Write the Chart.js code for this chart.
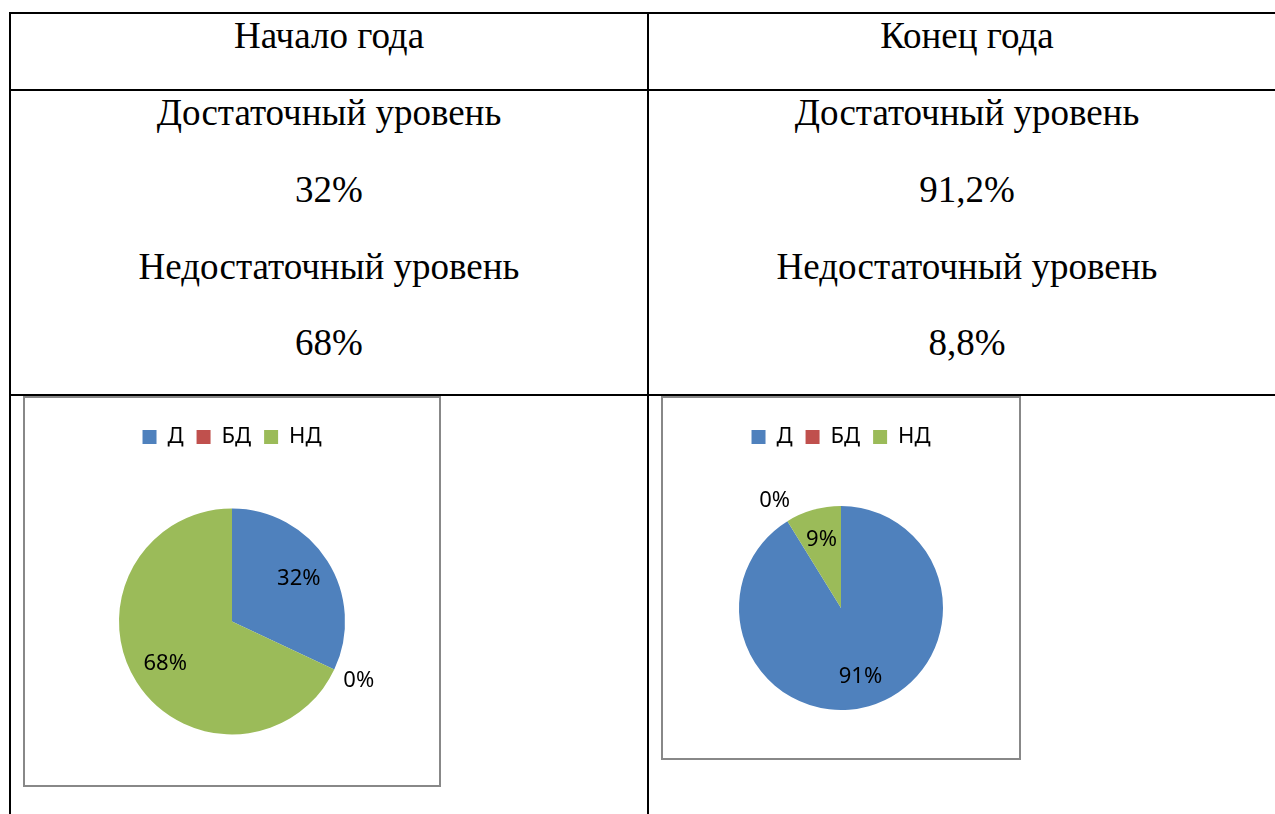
<!DOCTYPE html>
<html lang="ru">
<head>
<meta charset="utf-8">
<title>Начало года / Конец года</title>
<script src="https://cdn.jsdelivr.net/npm/chart.js@4.4.1/dist/chart.umd.min.js"></script>
<style>
  html, body { margin: 0; padding: 0; background: #fff; overflow: hidden; }
  body { width: 1275px; height: 814px; position: relative; font-family: "Liberation Serif", "Times New Roman", serif; }
  .line { position: absolute; background: #000; }
  .txt { position: absolute; width: 638px; text-align: center; font-size: 37px; color: #000; line-height: 44px; }
  .box { position: absolute; border: 2px solid #888; background: #fff; }
  .box canvas { display: block; }
</style>
</head>
<body>

<!-- table grid -->
<div class="line" style="left:9px; top:12px; width:1266px; height:2px;"></div>
<div class="line" style="left:9px; top:89px; width:1266px; height:2px;"></div>
<div class="line" style="left:9px; top:394px; width:1266px; height:2px;"></div>
<div class="line" style="left:9px; top:12px; width:2px; height:802px;"></div>
<div class="line" style="left:647px; top:12px; width:2px; height:802px;"></div>

<!-- column headers + text row -->
<div class="txt" style="left:10px; top:14px;">Начало года</div>
<div class="txt" style="left:648px; top:14px;">Конец года</div>

<div class="txt" style="left:10px; top:91px;">Достаточный уровень</div>
<div class="txt" style="left:10px; top:168px;">32%</div>
<div class="txt" style="left:10px; top:245px;">Недостаточный уровень</div>
<div class="txt" style="left:10px; top:321px;">68%</div>

<div class="txt" style="left:648px; top:91px;">Достаточный уровень</div>
<div class="txt" style="left:648px; top:168px;">91,2%</div>
<div class="txt" style="left:648px; top:245px;">Недостаточный уровень</div>
<div class="txt" style="left:648px; top:321px;">8,8%</div>

<!-- chart boxes -->
<div class="box" style="left:23px; top:396px; width:414px; height:387px;">
  <canvas id="pie-start" width="414" height="387"></canvas>
</div>
<div class="box" style="left:661px; top:396px; width:356px; height:360px;">
  <canvas id="pie-end" width="356" height="360"></canvas>
</div>

<script>
// ─── DATA ─────────────────────────────────────────────────────────
const categories   = ["Д", "БД", "НД"];
const startValues  = [32, 0, 68];      // начало года, %
const endValues    = [91.2, 0, 8.8];   // конец года, %
const sliceColors  = ["#4F81BD", "#C0504D", "#9BBB59"];

const labelFont = "Noto Sans";

// ─── PERCENT LABELS ───────────────────────────────────────────────
// Inside the slice at ~70% radius; zero slices get their label outside
const percentLabels = {
  id: "percentLabels",
  afterDatasetsDraw(chart) {
    const ctx  = chart.ctx;
    const meta = chart.getDatasetMeta(0);
    const data = chart.data.datasets[0].data;
    const total = data.reduce((a, b) => a + b, 0);

    ctx.save();
    ctx.font = `22px "${labelFont}"`;
    ctx.fillStyle = "#000";
    ctx.textAlign = "center";
    ctx.textBaseline = "middle";

    meta.data.forEach((arc, i) => {
      const p   = arc.getProps(["x", "y", "startAngle", "endAngle", "outerRadius"], true);
      const mid = (p.startAngle + p.endAngle) / 2;
      const k   = data[i] === 0 ? 1.24 : 0.7;
      const x   = p.x + Math.cos(mid) * p.outerRadius * k;
      const y   = p.y + Math.sin(mid) * p.outerRadius * k;
      ctx.fillText(Math.round(data[i] / total * 100) + "%", x, y);
    });
    ctx.restore();
  }
};

// ─── PIE BUILDER ──────────────────────────────────────────────────
function makePie(canvasId, values, pieRadius) {
  const ctx = document.getElementById(canvasId).getContext("2d");
  return new Chart(ctx, {
    type: "pie",
    data: {
      labels: categories,
      datasets: [{
        data:            values,
        backgroundColor: sliceColors,
        borderWidth:     0,
        radius:          pieRadius
      }]
    },
    options: {
      responsive: false,
      animation:  false,
      layout: { padding: { top: 15, bottom: 0, left: 0, right: 0 } },
      plugins: {
        legend: {
          position: "top",
          labels: {
            color:     "#000",
            boxWidth:  14,
            boxHeight: 14,
            padding:   13,
            font:      { family: labelFont, size: 22 }
          }
        },
        tooltip: { enabled: false }
      }
    },
    plugins: [percentLabels]
  });
}

makePie("pie-start", startValues, 113);
makePie("pie-end",   endValues,   102);
</script>
</body>
</html>
